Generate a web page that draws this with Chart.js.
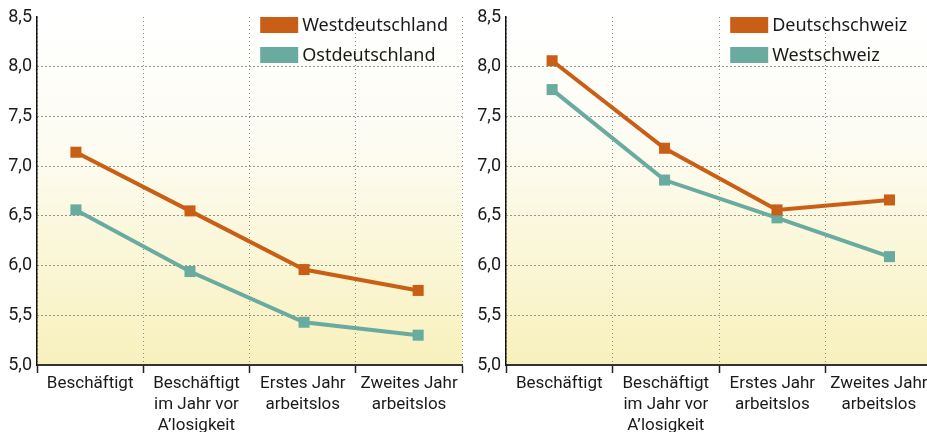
<!DOCTYPE html>
<html lang="de">
<head>
  <meta charset="UTF-8">
  <title>Zufriedenheit und Arbeitslosigkeit</title>
  <script src="https://cdn.jsdelivr.net/npm/chart.js"></script>
  <style>
    html, body {
      margin: 0;
      padding: 0;
      background: #fff;
      overflow: hidden;
    }
    .wrap {
      position: relative;
      width: 927px;
      height: 432px;
      overflow: hidden;
    }
    canvas {
      position: absolute;
      top: 0;
    }
  </style>
</head>
<body>
  <div class="wrap">
    <canvas id="chartDE" width="470" height="432" style="left:0"></canvas>
    <canvas id="chartCH" width="470" height="432" style="left:470px"></canvas>
  </div>

  <script>
    // categories (shared by both panels)
    const categories = [
      "Beschäftigt",
      ["Beschäftigt", "im Jahr vor", "A’losigkeit"],
      ["Erstes Jahr", "arbeitslos"],
      ["Zweites Jahr", "arbeitslos"]
    ];

    // Deutschland
    const westDE = [7.14, 6.55, 5.96, 5.75];
    const ostDE = [6.56, 5.94, 5.43, 5.30];

    // Schweiz
    const deutschCH = [8.06, 7.18, 6.56, 6.66];
    const westCH = [7.77, 6.86, 6.48, 6.09];

    const yTicks = [5.0, 5.5, 6.0, 6.5, 7.0, 7.5, 8.0, 8.5];

    const ORANGE = "#c95f17";
    const TEAL = "#69ac9f";
    const FONT = "Roboto, 'Liberation Sans', sans-serif";

    // yellowish fade behind the plot
    const bgPlugin = {
      id: "plotBg",
      beforeDraw(chart) {
        const { ctx, chartArea: a } = chart;
        const g = ctx.createLinearGradient(0, a.top, 0, a.bottom);
        g.addColorStop(0, "#ffffff");
        g.addColorStop(0.35, "#fdfcf3");
        g.addColorStop(1, "#f8f1bd");
        ctx.save();
        ctx.fillStyle = g;
        ctx.fillRect(a.left, a.top, a.right - a.left, a.bottom - a.top);
        ctx.restore();
      }
    };

    // legend boxes top right inside the plot
    const legendPlugin = {
      id: "boxLegend",
      afterDraw(chart) {
        const { ctx, chartArea: a } = chart;
        ctx.save();
        ctx.font = "18px 'Noto Sans', " + FONT;
        ctx.textBaseline = "middle";
        chart.data.datasets.forEach((ds, i) => {
          const x = a.right - 202;
          const y = a.top + i * 30;
          ctx.fillStyle = ds.borderColor;
          ctx.fillRect(x, y, 38, 16);
          ctx.fillStyle = "#1a1a1a";
          ctx.fillText(ds.label, x + 42, y + 9);
        });
        ctx.restore();
      }
    };

    function makeChart(id, names, series, xpMin, xpMax, padLeftAxis, padRight) {
      const colors = [ORANGE, TEAL];
      new Chart(document.getElementById(id), {
        type: "line",
        data: {
          labels: categories,
          datasets: series.map((vals, k) => ({
            label: names[k],
            data: vals.map((v, i) => ({ x: i, y: v })),
            xAxisID: "xp",
            borderColor: colors[k],
            backgroundColor: colors[k],
            borderWidth: 4,
            pointStyle: "rect",
            pointRadius: 7.8,
            pointBorderWidth: 0,
            tension: 0,
            clip: false
          }))
        },
        options: {
          responsive: false,
          animation: false,
          layout: { padding: { top: 17, right: padRight, left: 0, bottom: 0 } },
          plugins: { legend: { display: false }, tooltip: { enabled: false } },
          scales: {
            xp: {
              type: "linear",
              display: false,
              min: xpMin,
              max: xpMax
            },
            x: {
              type: "category",
              offset: true,
              afterFit: s => { s.height = 67; },
              grid: {
                offset: true,
                color: "#8a8a8a",
                lineWidth: 1,
                tickColor: "#222",
                tickLength: 8,
                tickWidth: 1.5,
                tickBorderDash: []
              },
              border: { display: true, color: "#333", width: 2, dash: [1, 3] },
              ticks: {
                color: "#1a1a1a",
                padding: 0,
                maxRotation: 0,
                autoSkip: false,
                font: { family: FONT, size: 17, lineHeight: 1.25 }
              }
            },
            y: {
              min: 5,
              max: 8.5,
              afterFit: s => { s.width = padLeftAxis; },
              afterBuildTicks: s => { s.ticks = yTicks.map(v => ({ value: v })); },
              grid: {
                drawTicks: false,
                color: c => (c.tick && c.tick.value === 8.5 ? "rgba(0,0,0,0)" : "#333"),
                lineWidth: 1
              },
              border: { display: true, color: "#111", width: 1.5, dash: [1, 3] },
              ticks: {
                color: "#1a1a1a",
                padding: 5,
                font: { family: FONT, size: 18 },
                callback: v => Number(v).toFixed(1).replace(".", ",")
              }
            }
          }
        },
        plugins: [bgPlugin, legendPlugin]
      });
    }

    makeChart("chartDE", ["Westdeutschland", "Ostdeutschland"], [westDE, ostDE],
      -0.341, 3.386, 37, 7);
    makeChart("chartCH", ["Deutschschweiz", "Westschweiz"], [deutschCH, westCH],
      -0.41, 3.38, 36, 6);
  </script>
</body>
</html>
